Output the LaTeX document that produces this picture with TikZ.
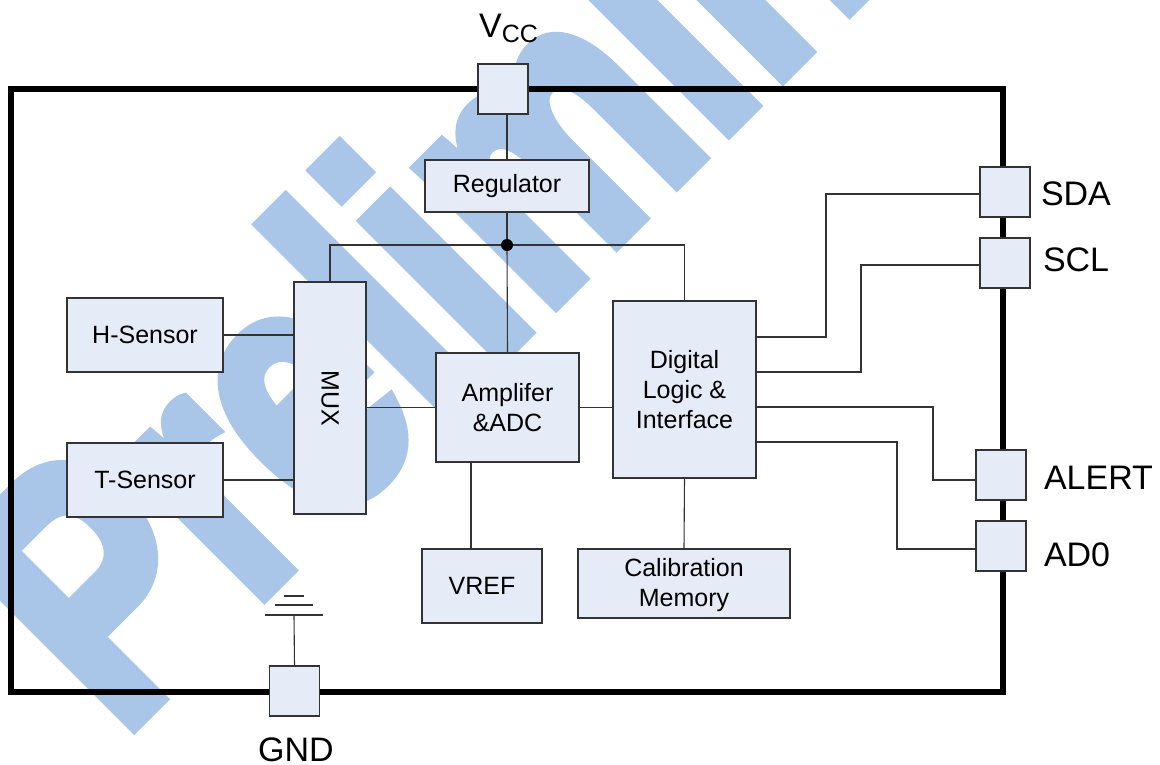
\documentclass[tikz,border=0pt]{standalone}
\usepackage{fontspec}
\setmainfont{Liberation Sans}
\newfontfamily\markfont[BoldFeatures={FakeBold=4}]{Liberation Sans}
\definecolor{markblue}{HTML}{A9C6E9}
\definecolor{boxfill}{HTML}{E6ECF7}
\definecolor{wire}{HTML}{333333}
\begin{document}
\begin{tikzpicture}[
        x=1pt, y=-1pt,
        every node/.style = {inner sep=0pt, outer sep=0pt, align=center},
        block/.style = {shape=rectangle, draw=wire, line width=1.2pt, fill=boxfill,
          font=\fontsize{25}{30}\selectfont},
        pad/.style = {block, minimum width=50pt, minimum height=50pt},
        pin/.style = {font=\fontsize{34}{38}\selectfont},
        link/.style = {draw=wire, line width=1.1pt}
        ]
    \useasboundingbox (0,0) rectangle (1160,764);
    % watermark
    \node[anchor=base west, text=markblue, rotate=45, xscale=.755, transform shape,
        font=\markfont\bfseries\fontsize{364}{364}\selectfont] (mark) at (120,739) {Preliminary};
    % package outline
    \node[shape=rectangle, draw=black, line width=6pt, minimum width=992pt, minimum height=603pt] (chip) at (506.5,390) {};
    % blocks
    \node[block, minimum width=164pt, minimum height=52pt] (regulator) at (507,186) {Regulator};
    \node[block, minimum width=156pt, minimum height=74pt] (hsensor) at (145,335) {H-Sensor};
    \node[block, minimum width=156pt, minimum height=74pt] (tsensor) at (145,480) {T-Sensor};
    \node[block, minimum width=72pt, minimum height=232pt] (mux) at (330,398) {\rotatebox{-90}{MUX}};
    \node[block, minimum width=143pt, minimum height=109pt] (amp) at (507.5,407.5) {Amplifer\\\&ADC};
    \node[block, minimum width=143pt, minimum height=177pt] (logic) at (684.5,389.5) {Digital\\Logic \&\\Interface};
    \node[block, minimum width=120pt, minimum height=74pt] (vref) at (482,586) {VREF};
    \node[block, minimum width=212pt, minimum height=69pt] (calib) at (684,583.5) {\rule{0pt}{22pt}Calibration\\Memory};
    % pads
    \node[pad] (vcc) at (503,89) {};
    \node[pad] (sda) at (1005,192) {};
    \node[pad] (scl) at (1005,263) {};
    \node[pad] (alert) at (1001,475) {};
    \node[pad] (adzero) at (1001,546) {};
    \node[pad] (gnd) at (294.5,691) {};
    % pin names
    \node[pin, anchor=base] (vcclabel) at (508.5,37) {V\raisebox{-5pt}{\fontsize{25}{25}\selectfont CC}};
    \node[pin, anchor=base west] (sdalabel) at (1041,205) {SDA};
    \node[pin, anchor=base west] (scllabel) at (1043,271) {SCL};
    \node[pin, anchor=base west] (alertlabel) at (1044,489) {ALERT};
    \node[pin, anchor=base west] (adzerolabel) at (1044,566) {AD0};
    \node[pin, anchor=base] (gndlabel) at (296,761) {GND};
    % junction and free ends
    \node[shape=circle, fill=black, minimum size=12pt] (dot) at (507,245) {};
    \coordinate (sdaout) at (756,337);
    \coordinate (sclout) at (756,372);
    \coordinate (alertout) at (756,407);
    \coordinate (adzeroout) at (756,442);
    \coordinate (earth) at (294,615);
    % connectors
    \draw[link] (regulator.north) -- (regulator.north |- vcc.south);
    \draw[link] (regulator.south) -- (dot);
    \draw[link] (dot) -- (amp.north);
    \draw[link] (mux.north) |- (dot);
    \draw[link] (logic.north) |- (dot);
    \draw[link] (hsensor.east) -- (hsensor.east -| mux.west);
    \draw[link] (tsensor.east) -- (tsensor.east -| mux.west);
    \draw[link] (amp.west) -- (amp.west -| mux.east);
    \draw[link] (amp.east) -- (amp.east -| logic.west);
    \draw[link] (vref.north -| 471,0) -- (amp.south -| 471,0);
    \draw[link] (logic.south) -- (calib.north);
    \draw[link] ([yshift=-2pt]sda.west) -- ++(-154,0) |- (sdaout);
    \draw[link] ([yshift=-2pt]scl.west) -- ++(-119,0) |- (sclout);
    \draw[link] ([yshift=-5pt]alert.west) -- ++(-43,0) |- (alertout);
    \draw[link] ([yshift=-3pt]adzero.west) -- ++(-79,0) |- (adzeroout);
    \draw[link] (gnd.north) -- (earth);
    % ground symbol
    \draw[link] ([xshift=-29pt]earth) -- ([xshift=29pt]earth);
    \draw[link] ([xshift=-19pt,yshift=10pt]earth) -- ([xshift=19pt,yshift=10pt]earth);
    \draw[link] ([xshift=-10pt,yshift=19pt]earth) -- ([xshift=10pt,yshift=19pt]earth);
\end{tikzpicture}
\end{document}
